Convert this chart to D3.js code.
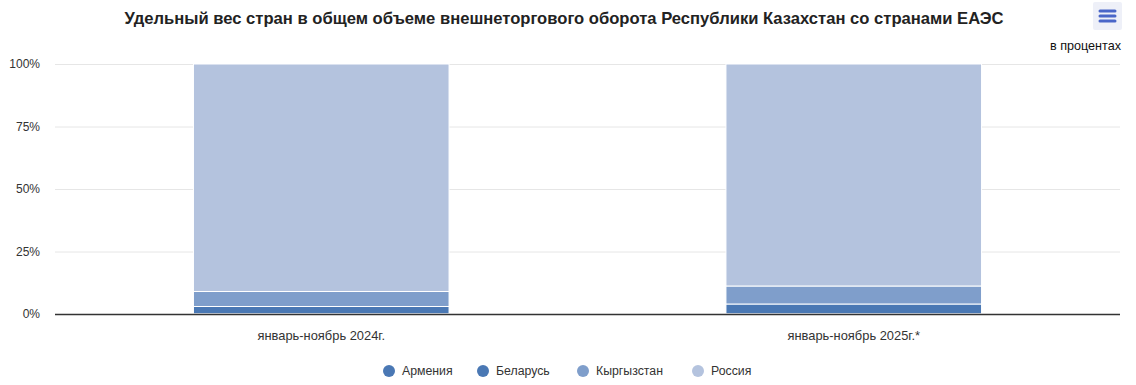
<!DOCTYPE html>
<html><head><meta charset="utf-8">
<script src="https://cdn.jsdelivr.net/npm/d3@7"></script>
<style>body{margin:0;background:#fff;font-family:"Liberation Sans",Arial,sans-serif}</style>
</head><body><svg id="c" width="1136" height="385"></svg>
<script>
const categories = ["январь-ноябрь 2024г.", "январь-ноябрь 2025г.*"];
const seriesNames = ["Армения", "Беларусь", "Кыргызстан", "Россия"];
const armenia = [0.1, 0.1];
const belarus = [2.9, 3.9];
const kyrgyzstan = [6.0, 7.2];
const russia = [91.0, 88.8];
const yTicks = [0, 25, 50, 75, 100];
const colors = ["#4a78b4", "#4a78b4", "#7f9ecb", "#b4c3de"];

const svg = d3.select("#c");
const W = 1136, H = 385;
const m = {left: 55, right: 16, top: 64, bottom: 71};
const x = d3.scaleBand().domain(categories).range([m.left, W - m.right]).paddingInner(0).paddingOuter(0);
const y = d3.scaleLinear().domain([0, 100]).range([H - m.bottom, m.top]);

// gridlines
svg.append("g").selectAll("line").data(yTicks.filter(d => d > 0)).join("line")
  .attr("x1", m.left).attr("x2", W - m.right)
  .attr("y1", d => y(d) + 0.5).attr("y2", d => y(d) + 0.5)
  .attr("stroke", "#e6e6e6");

// y axis labels
const ya = svg.append("g").attr("transform", `translate(${m.left - 15},0)`)
  .call(d3.axisLeft(y).tickValues(yTicks).tickFormat(d => d + "%").tickSize(0).tickPadding(0));
ya.select(".domain").remove();
ya.selectAll("text").attr("font-size", 12).attr("fill", "#333").attr("font-family", "Liberation Sans, Arial, sans-serif").attr("dy", "0.32em");

// stacked bars
const rows = categories.map((c, i) => ({cat: c, "Армения": armenia[i], "Беларусь": belarus[i], "Кыргызстан": kyrgyzstan[i], "Россия": russia[i]}));
const stack = d3.stack().keys(seriesNames)(rows);
const bw = x.bandwidth() * 0.48;
svg.append("g").selectAll("g").data(stack).join("g")
  .attr("fill", (d, i) => colors[i])
  .selectAll("rect").data(d => d).join("rect")
  .attr("x", d => x(d.data.cat) + (x.bandwidth() - bw) / 2)
  .attr("width", bw)
  .attr("y", d => y(d[1]))
  .attr("height", d => Math.max(0, y(d[0]) - y(d[1])))
  .attr("stroke", "#fff").attr("stroke-width", 1);

// x axis
const xa = svg.append("g").attr("transform", `translate(0,${y(0)})`)
  .call(d3.axisBottom(x).tickSize(0).tickPadding(17));
xa.select(".domain").attr("stroke", "#333").attr("stroke-width", 1.5).attr("d", `M${m.left},0.5H${W - m.right}`);
xa.selectAll("text").attr("font-size", 12.9).attr("fill", "#333").attr("font-family", "Liberation Sans, Arial, sans-serif");

// title
svg.append("text").attr("x", 564).attr("y", 24).attr("text-anchor", "middle")
  .attr("font-size", 16.6).attr("font-weight", "bold").attr("fill", "#222")
  .text("Удельный вес стран в общем объеме внешнеторгового оборота Республики Казахстан со странами ЕАЭС");

svg.append("text").attr("x", W - m.right + 1).attr("y", 50).attr("text-anchor", "end")
  .attr("font-size", 12.6).attr("fill", "#111").text("в процентах");

// menu button
const mb = svg.append("g").attr("transform", "translate(1093,2)");
mb.append("rect").attr("width", 29).attr("height", 28).attr("rx", 2).attr("fill", "#eef0f8");
[9, 14, 19].forEach(yy => mb.append("line").attr("x1", 7).attr("x2", 22).attr("y1", yy).attr("y2", yy)
  .attr("stroke", "#4a66c8").attr("stroke-width", 3).attr("stroke-linecap", "round"));

// legend
const legX = [389, 483, 583, 698];
const lg = svg.append("g").selectAll("g").data(seriesNames).join("g")
  .attr("transform", (d, i) => `translate(${legX[i]},371)`);
lg.append("circle").attr("r", 6).attr("fill", (d, i) => colors[i]);
lg.append("text").attr("x", 13).attr("dy", "0.35em").attr("font-size", 12.3).attr("fill", "#333").text(d => d);
</script></body></html>
